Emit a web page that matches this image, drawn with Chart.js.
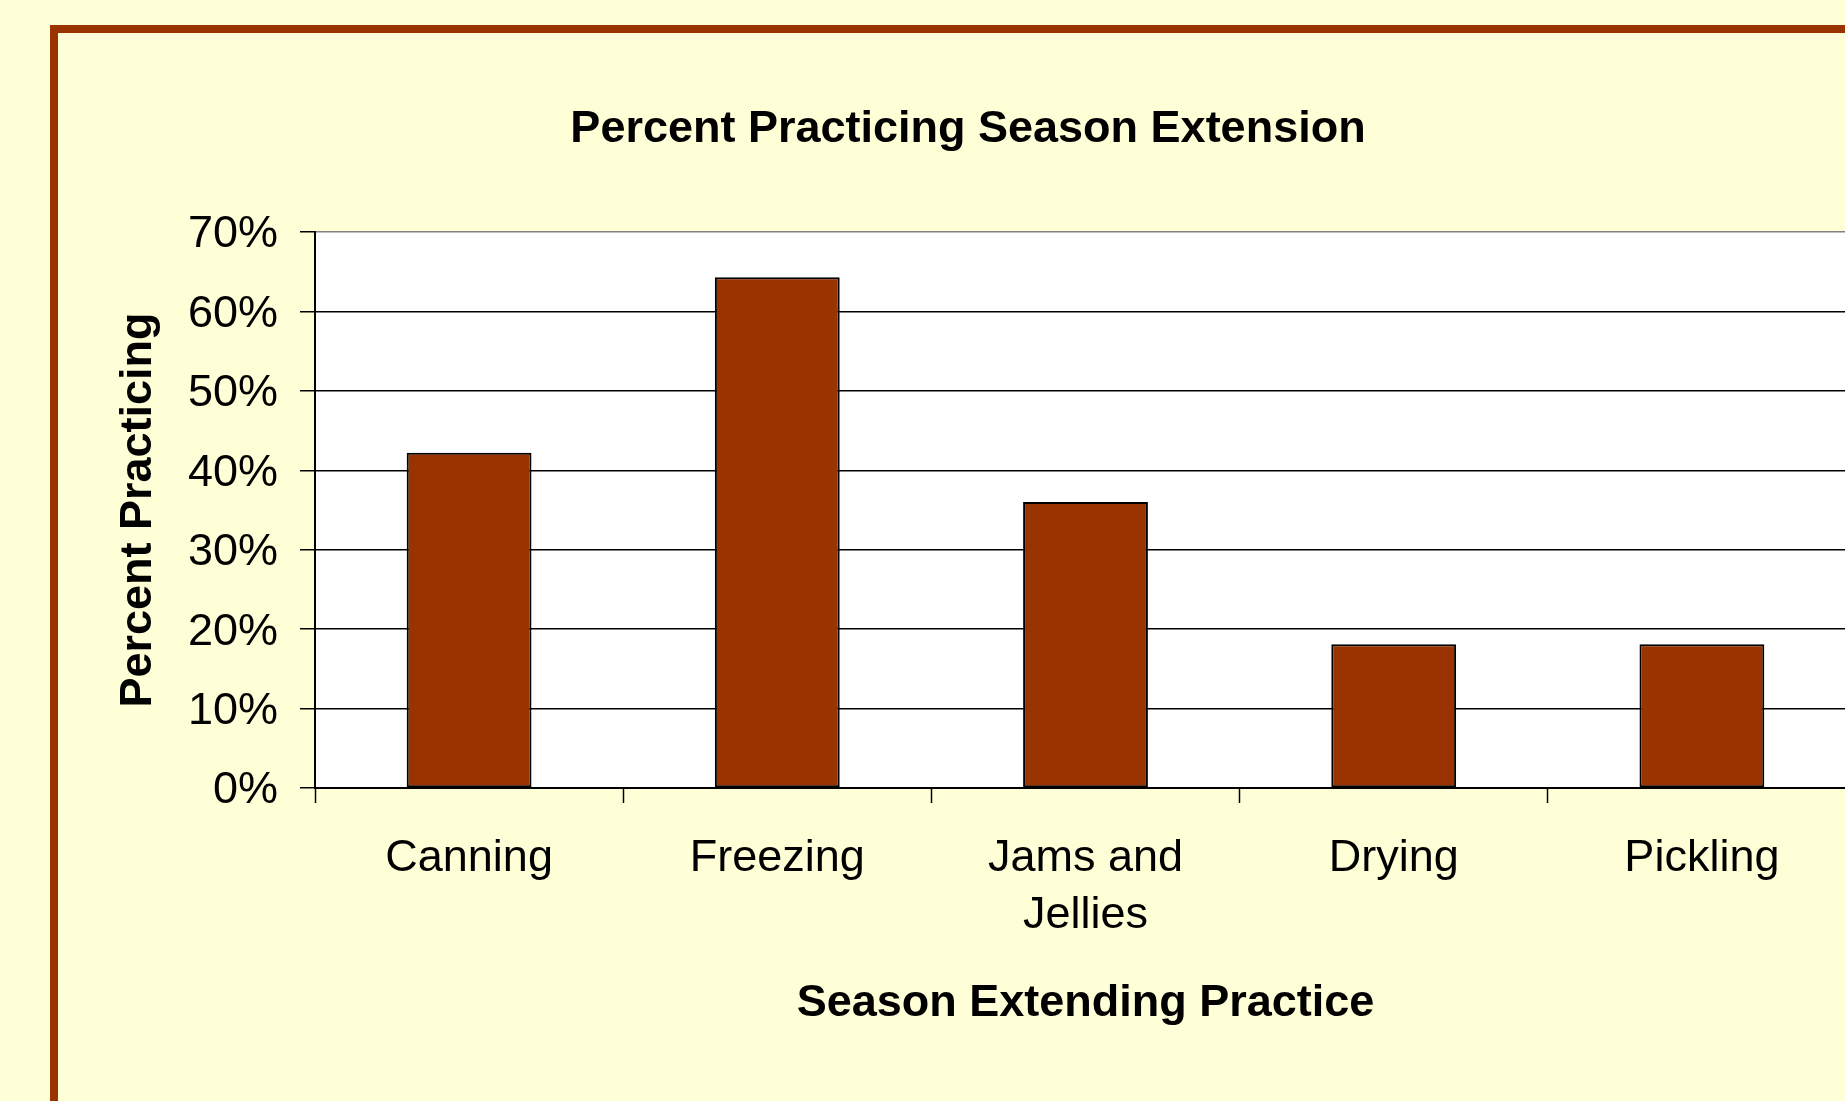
<!DOCTYPE html>
<html>
<head>
<meta charset="utf-8">
<title>Percent Practicing Season Extension</title>
<script src="https://cdn.jsdelivr.net/npm/chart.js@4.4.1/dist/chart.umd.min.js"></script>
<style>
  html, body {
    margin: 0;
    padding: 0;
    width: 1845px;
    height: 1101px;
    overflow: hidden;
    background: #ffffd7;
  }
  #frame {
    position: absolute;
    left: 50px;
    top: 25px;
    width: 1900px;
    height: 1200px;
    border: 8px solid #993300;
  }
  #chart {
    position: absolute;
    left: 0;
    top: 0;
  }
</style>
</head>
<body>
<div id="frame"></div>
<canvas id="chart" width="1856" height="1101"></canvas>
<script>
var categories = ["Canning", "Freezing", ["Jams and", "Jellies"], "Drying", "Pickling"];
var percentPracticing = [42.2, 64.3, 36, 18.1, 18.1];
var yTicks = [0, 10, 20, 30, 40, 50, 60, 70];

var fontFamily = "'Liberation Sans', Arial, sans-serif";

// white plot area, the page around it stays yellow
var plotBackground = {
  id: "plotBackground",
  beforeDraw: function(chart) {
    var a = chart.chartArea;
    var ctx = chart.ctx;
    ctx.save();
    ctx.fillStyle = "#ffffff";
    ctx.fillRect(a.left, a.top, a.right - a.left, a.bottom - a.top);
    ctx.restore();
  }
};

var ctx = document.getElementById("chart");
var myChart = new Chart(ctx, {
  type: "bar",
  data: {
    labels: categories,
    datasets: [
      {
        label: "Percent Practicing",
        data: percentPracticing,
        backgroundColor: "#993300",
        borderColor: "#000000",
        borderWidth: 2,
        borderSkipped: false,
        barPercentage: 0.405,
        categoryPercentage: 1
      }
    ]
  },
  options: {
    responsive: false,
    animation: false,
    layout: {
      padding: { left: 80, right: 0, top: 0, bottom: 0 }
    },
    plugins: {
      legend: { display: false },
      tooltip: { enabled: false },
      title: {
        display: true,
        text: "Percent Practicing Season Extension",
        color: "#000000",
        font: { family: fontFamily, size: 45, weight: "bold", lineHeight: 1.2 },
        padding: { top: 103, bottom: 75 }
      } //end of title
    },
    scales: {
      x: {
        grid: {
          offset: true,
          drawOnChartArea: false,
          drawTicks: true,
          tickLength: 15,
          tickColor: "#000000",
          tickWidth: 1.5
        },
        border: { color: "#000000", width: 2 },
        ticks: {
          color: "#000000",
          font: { family: fontFamily, size: 45, lineHeight: 1.27 },
          padding: 27,
          maxRotation: 0,
          autoSkip: false
        },
        title: {
          display: true,
          text: "Season Extending Practice",
          color: "#000000",
          font: { family: fontFamily, size: 45, weight: "bold", lineHeight: 1.2 },
          padding: { top: 0, bottom: 70 }
        },
        afterFit: function(scale) {
          scale.height = 313;
        }
      },
      y: {
        min: 0,
        max: 70,
        afterBuildTicks: function(scale) {
          scale.ticks = yTicks.map(function(v) {
            return { value: v };
          });
        },
        grid: {
          color: function(c) {
            return c.tick && c.tick.value === 70 ? "#808080" : "#000000";
          },
          lineWidth: 1.5,
          tickLength: 15,
          tickColor: "#000000"
        },
        border: { color: "#000000", width: 2 },
        ticks: {
          color: "#000000",
          font: { family: fontFamily, size: 45 },
          padding: 22,
          labelOffset: 3,
          callback: function(v) {
            return v + "%";
          }
        },
        title: {
          display: true,
          text: "Percent Practicing",
          color: "#000000",
          font: { family: fontFamily, size: 45, weight: "bold", lineHeight: 1.2 },
          padding: { top: 32, bottom: 0 }
        },
        afterFit: function(scale) {
          scale.width = 235;
        }
      }
    } //end of scales
  }, //end of options
  plugins: [plotBackground]
});
</script>
</body>
</html>
